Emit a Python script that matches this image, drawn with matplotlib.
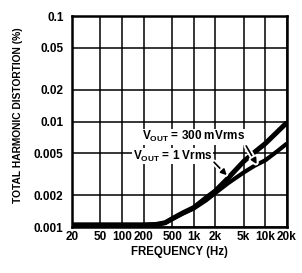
import matplotlib
matplotlib.use("Agg")
import matplotlib.pyplot as plt
import matplotlib.patheffects as pe
from matplotlib import font_manager

# Data
freq = [20, 50, 100, 200, 300, 400, 500, 700, 1000, 1500, 2000, 3000, 5000, 7000, 10000, 15000, 20000]
thd_1v = [0.00105, 0.00105, 0.00105, 0.00105, 0.00106, 0.0011, 0.0012, 0.00136, 0.00153, 0.0019, 0.0022,
          0.0029, 0.0042, 0.0051, 0.0062, 0.0081, 0.0098]
thd_300mv = [0.00105, 0.00105, 0.00105, 0.00105, 0.00106, 0.0011, 0.00119, 0.00134, 0.0015, 0.0018, 0.0021,
             0.0026, 0.0033, 0.0038, 0.0043, 0.0053, 0.0062]

x_ticks = [20, 50, 100, 200, 500, 1000, 2000, 5000, 10000, 20000]
x_labels = ["20", "50", "100", "200", "500", "1k", "2k", "5k", "10k", "20k"]
y_ticks = [0.001, 0.002, 0.005, 0.01, 0.02, 0.05, 0.1]
y_labels = ["0.001", "0.002", "0.005", "0.01", "0.02", "0.05", "0.1"]

names = {f.name for f in font_manager.fontManager.ttflist}
family = "Liberation Sans Narrow" if "Liberation Sans Narrow" in names else "Liberation Sans"
plt.rcParams["font.family"] = [family, "DejaVu Sans"]
plt.rcParams["font.weight"] = "bold"
plt.rcParams["mathtext.fontset"] = "custom"
plt.rcParams["mathtext.rm"] = family + ":bold"
plt.rcParams["mathtext.it"] = family + ":bold"
plt.rcParams["mathtext.bf"] = family + ":bold"

fig = plt.figure(figsize=(3.02, 2.73), dpi=100)
ax = fig.add_axes([0.238, 0.168, 0.712, 0.773])

ax.plot(freq, thd_1v, color="black", linewidth=3.6, solid_capstyle="butt", zorder=3)
ax.plot(freq, thd_300mv, color="black", linewidth=3.0, solid_capstyle="butt", zorder=3)

ax.set_xscale("log")
ax.set_yscale("log")
ax.set_xlim(20, 20000)
ax.set_ylim(0.001, 0.1)
ax.set_xticks(x_ticks)
ax.set_xticklabels(x_labels)
ax.set_yticks(y_ticks)
ax.set_yticklabels(y_labels)
ax.minorticks_off()
ax.tick_params(length=0, labelsize=8.5)
ax.tick_params(axis="x", pad=3)
ax.tick_params(axis="y", pad=6)
ax.grid(True, color="black", linewidth=1.1)
for s in ax.spines.values():
    s.set_linewidth(1.8)

ax.set_xlabel("FREQUENCY (Hz)", fontsize=8.3, fontweight="bold", labelpad=2)
ax.set_ylabel("TOTAL HARMONIC DISTORTION (%)", fontsize=7.4, fontweight="bold")
ax.yaxis.set_label_coords(-0.228, 0.53)

box = dict(facecolor="white", edgecolor="none", pad=0.3)
stroke = [pe.withStroke(linewidth=4, foreground="white")]
ax.annotate(r"V$_{\mathrm{OUT}}$ = 300 mVrms", xy=(7600, 0.00395), xytext=(190, 0.0072),
            fontsize=8.5, fontweight="bold", va="center", ha="left", bbox=box,
            arrowprops=dict(arrowstyle="-|>", color="black", lw=1.2, path_effects=stroke,
                            relpos=(1.0, 0.0), shrinkA=1, shrinkB=0), zorder=5)
ax.annotate(r"V$_{\mathrm{OUT}}$ = 1 Vrms", xy=(2900, 0.0031), xytext=(142, 0.0047),
            fontsize=8.5, fontweight="bold", va="center", ha="left", bbox=box,
            arrowprops=dict(arrowstyle="-|>", color="black", lw=1.2, path_effects=stroke,
                            relpos=(1.0, 0.2), shrinkA=1, shrinkB=0), zorder=5)

fig.savefig("out.png", dpi=100)
